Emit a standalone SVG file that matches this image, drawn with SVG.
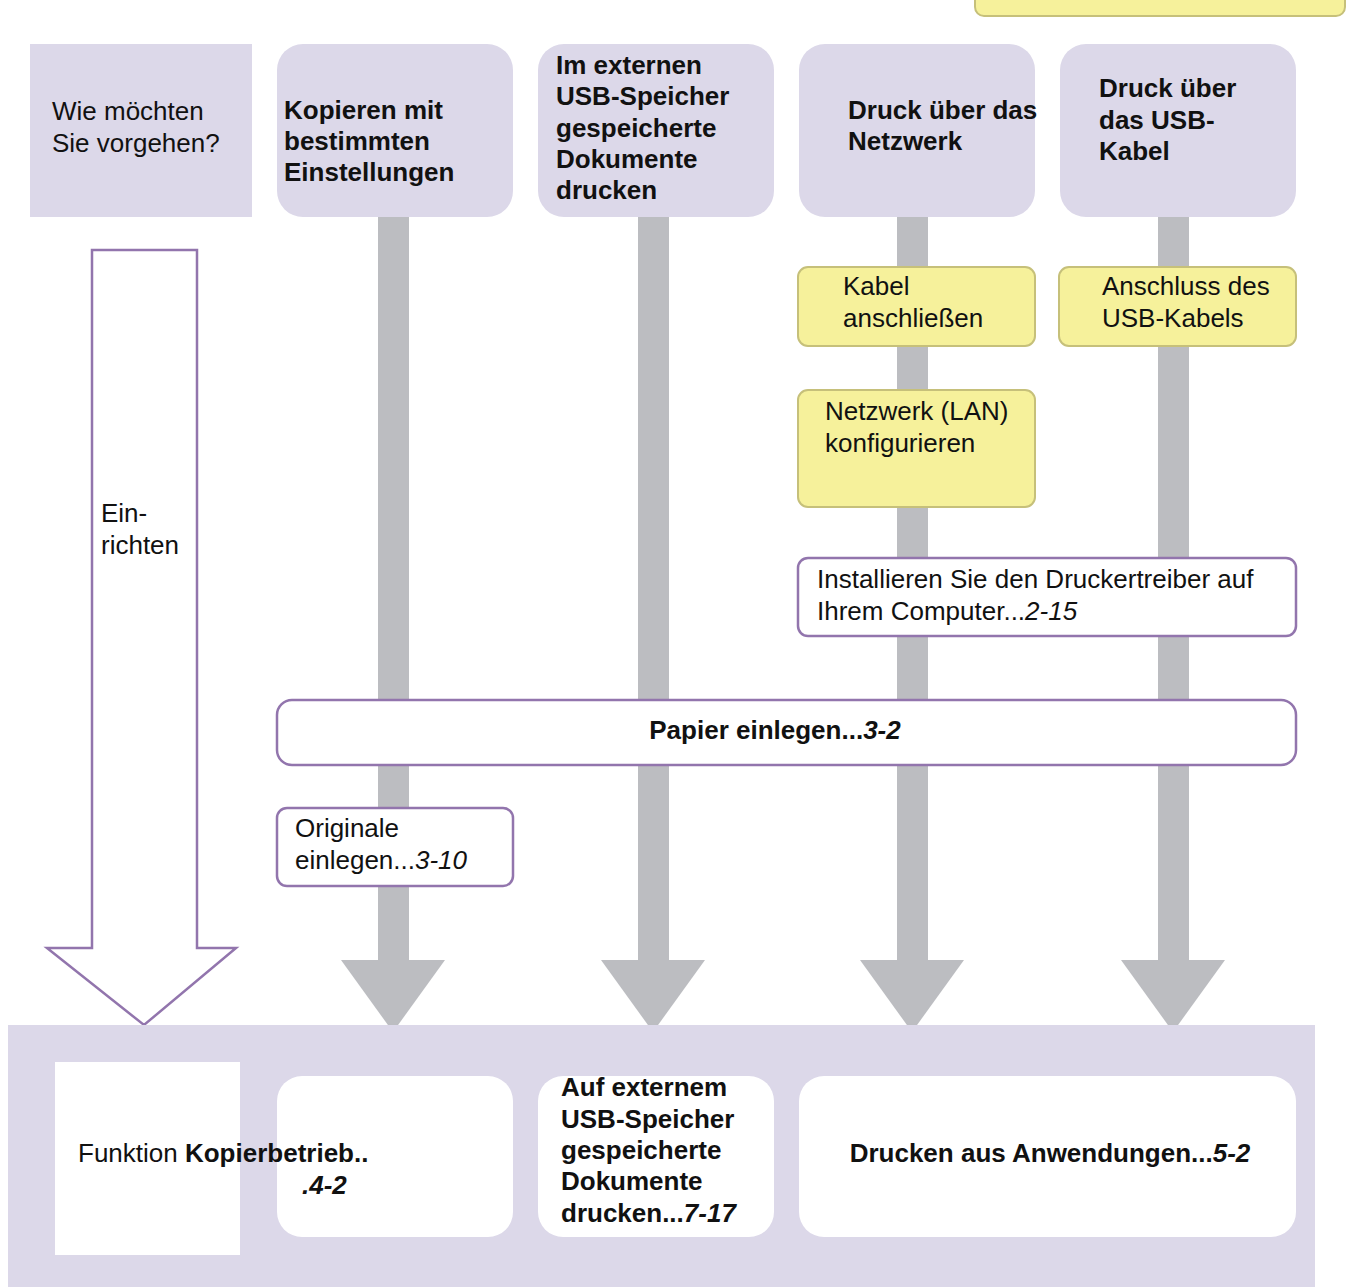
<svg xmlns="http://www.w3.org/2000/svg" width="1351" height="1287" viewBox="0 0 1351 1287">
<defs>
<style>
.lav{fill:#dcd8e9}
.yel{fill:#f6f19b;stroke:#c6c07a;stroke-width:2}
.wb{fill:#ffffff;stroke:#9275ad;stroke-width:2.5}
.wh{fill:#ffffff}
.gray{fill:#bcbdc1}
text{font-family:"Liberation Sans",Arial,sans-serif;font-size:26px;fill:#111}
.b{font-weight:bold}
.i{font-style:italic}
</style>
</defs>
<rect width="1351" height="1287" fill="#ffffff"/>
<g id="connectors">
<g id="arrow-col1"><rect class="gray" x="378" y="215" width="31" height="748"/><polygon class="gray" points="341,960 445,960 393,1032"/></g>
<g id="arrow-col2"><rect class="gray" x="638" y="215" width="31" height="748"/><polygon class="gray" points="601,960 705,960 653,1032"/></g>
<g id="arrow-col3"><rect class="gray" x="897" y="215" width="31" height="748"/><polygon class="gray" points="860,960 964,960 912,1032"/></g>
<g id="arrow-col4"><rect class="gray" x="1158" y="215" width="31" height="748"/><polygon class="gray" points="1121,960 1225,960 1173,1032"/></g>
</g>
<g id="top-yellow"><rect class="yel" x="975" y="-20" width="370" height="36" rx="9"/></g>
<g id="q"><rect class="lav" x="30" y="44" width="222" height="173"/>
<text x="52" y="120">Wie möchten</text><text x="52" y="152">Sie vorgehen?</text></g>
<g id="h1"><rect class="lav" x="277" y="44" width="236" height="173" rx="26"/>
<text class="b" x="284" y="119">Kopieren mit</text><text class="b" x="284" y="150">bestimmten</text><text class="b" x="284" y="181">Einstellungen</text></g>
<g id="h2"><rect class="lav" x="538" y="44" width="236" height="173" rx="26"/>
<text class="b" x="556" y="74">Im externen</text><text class="b" x="556" y="105">USB-Speicher</text><text class="b" x="556" y="137">gespeicherte</text><text class="b" x="556" y="168">Dokumente</text><text class="b" x="556" y="199">drucken</text></g>
<g id="h3"><rect class="lav" x="799" y="44" width="236" height="173" rx="26"/>
<text class="b" x="848" y="119" font-size="24.5">Druck über das</text><text class="b" x="848" y="150" font-size="24.5">Netzwerk</text></g>
<g id="h4"><rect class="lav" x="1060" y="44" width="236" height="173" rx="26"/>
<text class="b" x="1099" y="97" font-size="25">Druck über</text><text class="b" x="1099" y="129" font-size="25">das USB-</text><text class="b" x="1099" y="160" font-size="25">Kabel</text></g>
<g id="setup"><polygon points="92,250 197,250 197,948 236,948 144,1025 47,948 92,948" fill="#ffffff" stroke="#9275ad" stroke-width="2.5"/>
<text x="101" y="522">Ein-</text><text x="101" y="554">richten</text></g>
<g id="kabel"><rect class="yel" x="798" y="267" width="237" height="79" rx="10"/>
<text x="843" y="295">Kabel</text><text x="843" y="327">anschließen</text></g>
<g id="usbkabel"><rect class="yel" x="1059" y="267" width="237" height="79" rx="10"/>
<text x="1102" y="295">Anschluss des</text><text x="1102" y="327">USB-Kabels</text></g>
<g id="lan"><rect class="yel" x="798" y="390" width="237" height="117" rx="10"/>
<text x="825" y="420">Netzwerk (LAN)</text><text x="825" y="452">konfigurieren</text></g>
<g id="treiber"><rect class="wb" x="798" y="558" width="498" height="78" rx="10"/>
<text x="817" y="588">Installieren Sie den Druckertreiber auf</text><text x="817" y="620">Ihrem Computer...<tspan class="i">2-15</tspan></text></g>
<g id="papier"><rect class="wb" x="277" y="700" width="1019" height="65" rx="15"/>
<text class="b" x="775" y="739" text-anchor="middle" font-size="24">Papier einlegen...<tspan class="i">3-2</tspan></text></g>
<g id="originale"><rect class="wb" x="277" y="808" width="236" height="78" rx="10"/>
<text x="295" y="837">Originale</text><text x="295" y="869">einlegen...<tspan class="i">3-10</tspan></text></g>
<g id="bottom"><rect class="lav" x="8" y="1025" width="1307" height="262"/>
<rect class="wh" x="55" y="1062" width="185" height="193"/>
<rect class="wh" x="277" y="1076" width="236" height="161" rx="25"/>
<rect class="wh" x="538" y="1076" width="236" height="161" rx="25"/>
<rect class="wh" x="799" y="1076" width="497" height="161" rx="25"/>
<text x="78" y="1162" font-size="24">Funktion <tspan class="b">Kopierbetrieb..</tspan></text>
<text class="b i" x="302" y="1194" font-size="24">.4-2</text>
<text class="b" x="561" y="1096" font-size="25">Auf externem</text><text class="b" x="561" y="1128" font-size="25">USB-Speicher</text><text class="b" x="561" y="1159" font-size="25">gespeicherte</text><text class="b" x="561" y="1190" font-size="25">Dokumente</text><text class="b" x="561" y="1222" font-size="25">drucken...<tspan class="i">7-17</tspan></text>
<text class="b" x="1050" y="1162" text-anchor="middle" font-size="25">Drucken aus Anwendungen...<tspan class="i">5-2</tspan></text>
</g>
</svg>
